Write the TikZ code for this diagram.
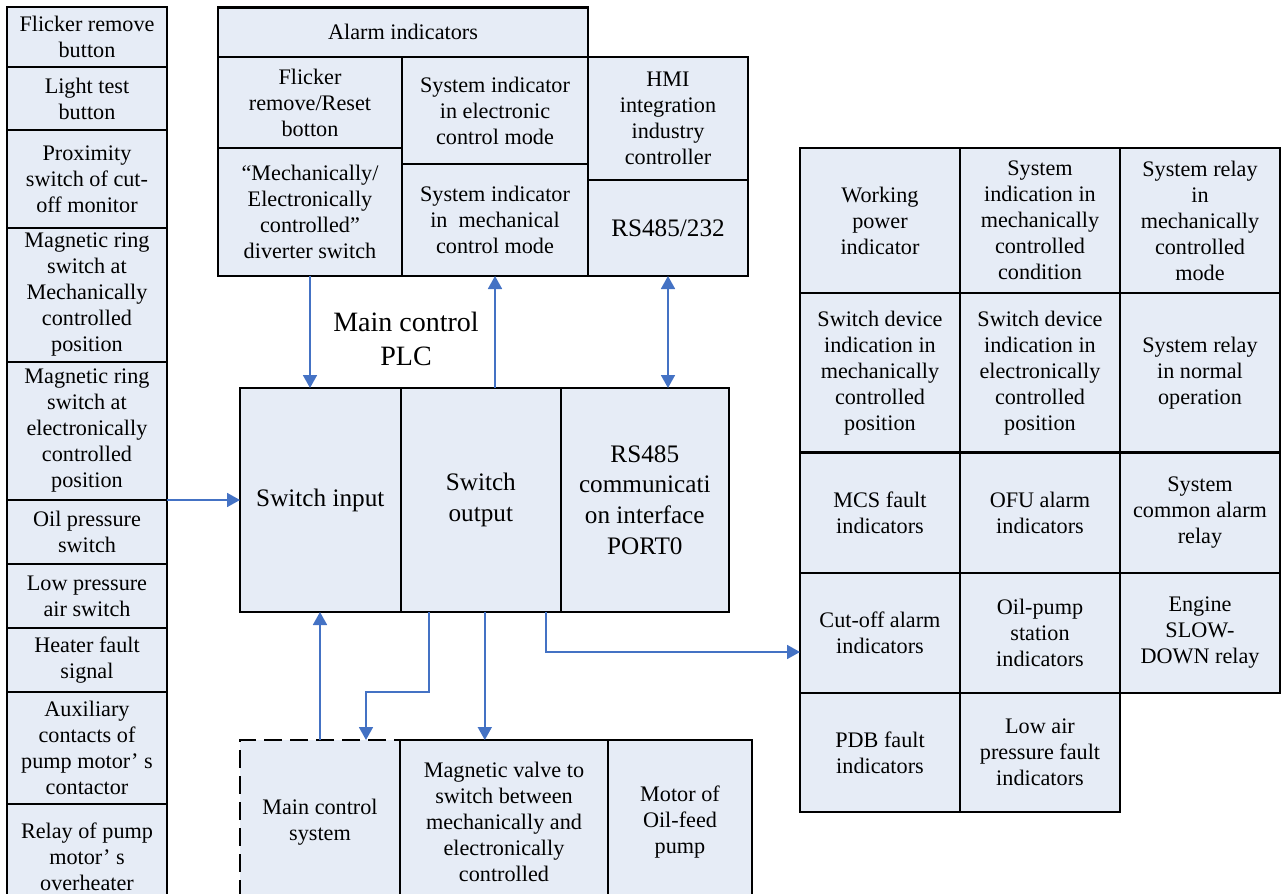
\documentclass[tikz,border=0pt]{standalone}
\usepackage{fontspec}
\setmainfont{Liberation Serif}
\usetikzlibrary{positioning,calc,arrows.meta}
\definecolor{boxfill}{RGB}{230,236,246}
\definecolor{linkblue}{RGB}{68,114,196}
\tikzset{
  cell/.style={draw, line width=1.1pt, fill=boxfill, align=center, inner sep=0pt, outer sep=0pt, font=\fontsize{11.1}{13}\selectfont},
  bigcell/.style={cell, font=\fontsize{12.6}{15.3}\selectfont},
  wh/.style 2 args={minimum width=#1*0.5pt, minimum height=#2*0.5pt},
  flow/.style={draw=linkblue, line width=0.9pt, -{Triangle[length=6.5pt,width=7pt]}},
  flowboth/.style={flow, {Triangle[length=6.5pt,width=7pt]}-{Triangle[length=6.5pt,width=7pt]}},
}

\begin{document}
\begin{tikzpicture}[x=0.5pt, y=-0.5pt, node distance=0pt]
\useasboundingbox (0,0) rectangle (1282,894);
\clip (0,0) rectangle (1282,894);

\node[cell, wh={160}{60}] (l1) at (87,37) {Flicker remove\\button};
\node[cell, wh={160}{63}, below=of l1] (l2) {Light test\\button};
\node[cell, wh={160}{98}, below=of l2] (l3) {Proximity\\switch of cut-\\off monitor};
\node[cell, wh={160}{134}, below=of l3] (l4) {Magnetic ring\\switch at\\Mechanically\\controlled\\position};
\node[cell, wh={160}{138}, below=of l4] (l5) {Magnetic ring\\switch at\\electronically\\controlled\\position};
\node[cell, wh={160}{64}, below=of l5] (l6) {Oil pressure\\switch};
\node[cell, wh={160}{64}, below=of l6] (l7) {Low pressure\\air switch};
\node[cell, wh={160}{64}, below=of l7] (l8) {Heater fault\\signal};
\node[cell, wh={160}{112}, below=of l8] (l9) {Auxiliary\\contacts of\\pump motor’ s\\contactor};
\node[cell, wh={160}{106}, below=of l9] (l10) {Relay of pump\\motor’ s\\overheater};

\node[cell, wh={370}{49.5}] (alarm) at (403,32.25) {Alarm indicators};
\node[cell, wh={184}{91}] (flick) at (310,102.5) {Flicker\\remove/Reset\\botton};
\node[cell, wh={184}{128}, below=of flick] (divsw) {“Mechanically/\\Electronically\\controlled”\\diverter switch};
\node[cell, wh={186}{107}] (sysel) at (495,110.5) {System indicator\\in electronic\\control mode};
\node[cell, wh={186}{112}, below=of sysel] (sysme) {System indicator\\in\ \ mechanical\\control mode};
\node[cell, wh={160}{123}] (hmi) at (668,118.5) {HMI\\integration\\industry\\controller};
\node[bigcell, wh={160}{96}, below=of hmi] (rs) {RS485/232};

\node[font=\fontsize{14}{17}\selectfont, align=center] (plc) at (406,339) {Main control\\PLC};
\node[bigcell, wh={160.6}{224}] (swin) at (320.3,500) {Switch input};
\node[bigcell, wh={160.4}{224}, right=of swin] (swout) {Switch\\output};
\node[bigcell, wh={167.6}{224}, right=of swout] (port) {RS485\\communicati\\on interface\\PORT0};

\node[cell, wh={160}{164}, dash pattern=on 9pt off 4pt] (mcs) at (320,822) {Main control\\system};
\node[cell, wh={208}{164}, right=of mcs] (valve) {Magnetic valve to\\switch between\\mechanically and\\electronically\\controlled};
\node[cell, wh={144}{164}, right=of valve] (motor) {Motor of\\Oil-feed\\pump};

\node[cell, wh={160}{145}] (work) at (880,220.5) {Working\\power\\indicator};
\node[cell, wh={160}{145}, right=of work] (sicond) {System\\indication in\\mechanically\\controlled\\condition};
\node[cell, wh={160}{145}, right=of sicond] (srmode) {System relay\\in\\mechanically\\controlled\\mode};
\node[cell, wh={160}{159.5}, below=of work] (sdmech) {Switch device\\indication in\\mechanically\\controlled\\position};
\node[cell, wh={160}{159.5}, right=of sdmech] (sdelec) {Switch device\\indication in\\electronically\\controlled\\position};
\node[cell, wh={160}{159.5}, right=of sdelec] (srnorm) {System relay\\in normal\\operation};
\node[cell, wh={160}{120.5}, below=of sdmech] (mcsf) {MCS fault\\indicators};
\node[cell, wh={160}{120.5}, right=of mcsf] (ofu) {OFU alarm\\indicators};
\node[cell, wh={160}{120.5}, right=of ofu] (common) {System\\common alarm\\relay};
\node[cell, wh={160}{120}, below=of mcsf] (cutoff) {Cut-off alarm\\indicators};
\node[cell, wh={160}{120}, right=of cutoff] (oilst) {Oil-pump\\station\\indicators};
\node[cell, wh={160}{120}, right=of oilst] (slow) {Engine\\SLOW-\\DOWN relay};
\node[cell, wh={160}{119}, below=of cutoff] (pdb) {PDB fault\\indicators};
\node[cell, wh={160}{119}, right=of pdb] (lowair) {Low air\\pressure fault\\indicators};

\draw[flow] (divsw.south) -- (divsw.south |- swin.north);
\draw[flow] (sysme.south |- swout.north) -- (sysme.south);
\draw[flowboth] (rs.south) -- (rs.south |- port.north);
\draw[flow] (l5.south east) -- (swin.west);
\draw[flow] (mcs.north) -- (mcs.north |- swin.south);
\coordinate (o1) at ($(swout.south)+(-52,0)$);
\coordinate (o2) at ($(swout.south)+(4,0)$);
\coordinate (o3) at ($(swout.south)+(65,0)$);
\draw[flow] (o1) -- ++(0,80) -| ($(mcs.north)+(46,0)$);
\draw[flow] (o2) -- (o2 |- valve.north);
\draw[flow] (o3) |- ($(cutoff.west)+(0,19)$);
\end{tikzpicture}
\end{document}
